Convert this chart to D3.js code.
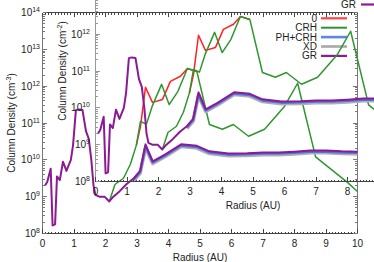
<!DOCTYPE html>
<html><head><meta charset="utf-8">
<script src="https://cdn.jsdelivr.net/npm/d3@7"></script>
<style>
html,body{margin:0;padding:0;background:#fff;}
svg{display:block;font-family:"Liberation Sans",Arial,sans-serif;}
</style></head><body>
<svg id="c" width="374" height="262"></svg>
<script>
// ---------------- data ----------------
const seriesNames = ["0", "CRH", "PH+CRH", "XD", "GR"];

const radius0 = [2.98, 3.11, 3.27, 3.49, 3.81, 4.06, 4.38, 4.60, 4.90];
const dens0   = [2.51e10, 7.94e10, 9.33e11, 3.63e11, 4.37e11, 1.35e12, 1.86e12, 3.02e12, 2.51e12];

const radiusCRH = [2.12, 2.30, 2.57, 2.79, 2.98, 3.11, 3.30, 3.48, 3.78, 4.02, 4.30, 4.60,
                   4.90, 5.30, 5.71, 6.06, 6.54, 7.05, 7.68, 8.10, 8.67, 9.68, 10.0];
const densCRH   = [7.41e8, 2.14e9, 3.16e9, 7.59e9, 2.51e10, 1.10e11, 9.33e10, 2.82e11, 1.12e12, 3.16e11, 7.24e11, 3.02e12,
                   2.51e12, 9.12e10, 6.76e10, 9.12e10, 4.37e10, 6.76e10, 2.82e11, 1.20e12, 1.20e10, 2.45e9, 1.38e9];

const radiusPH = [2.90, 3.10, 3.27, 3.50, 3.90, 4.40, 4.90, 5.30, 5.90, 6.50, 7.00, 7.50, 8.00, 8.50, 9.00, 9.50, 10.0];
const densPH   = [2.95e9, 4.68e9, 2.29e10, 8.51e9, 1.32e10, 2.45e10, 2.24e10, 1.58e10, 1.38e10, 1.41e10, 1.48e10, 1.48e10, 1.55e10, 1.66e10, 1.66e10, 1.58e10, 1.55e10];

const radiusXD = [2.90, 3.10, 3.27, 3.50, 3.90, 4.40, 4.90, 5.30, 5.90, 6.50, 7.00, 7.50, 8.00, 8.50, 9.00, 9.50, 10.0];
const densXD   = [2.75e9, 4.37e9, 2.14e10, 7.94e9, 1.23e10, 2.29e10, 2.09e10, 1.48e10, 1.29e10, 1.32e10, 1.38e10, 1.38e10, 1.45e10, 1.55e10, 1.55e10, 1.48e10, 1.45e10];

const radiusGR = [0.08, 0.15, 0.26, 0.32, 0.40, 0.46, 0.55, 0.65, 0.76, 0.90,
                  0.97, 1.06, 1.15, 1.27, 1.38, 1.47, 1.55, 1.62, 1.68, 1.80,
                  1.97, 2.12, 2.25, 2.45, 2.68, 2.90, 3.10, 3.27, 3.50, 3.90,
                  4.40, 4.90, 5.30, 5.90, 6.50, 7.00, 7.50, 8.00, 8.50, 9.00,
                  9.50, 10.0];
const densGR   = [2.00e9, 2.51e9, 5.75e9, 1.66e8, 1.78e8, 3.55e9, 2.82e9, 8.91e9, 5.01e9, 1.00e10,
                  2.51e10, 2.24e11, 2.34e11, 2.24e11, 6.03e10, 3.72e10, 1.00e10, 2.00e9, 1.12e9, 1.00e9,
                  1.00e9, 7.41e8, 1.00e9, 1.41e9, 2.24e9, 3.16e9, 5.01e9, 2.63e10, 9.12e9, 1.41e10,
                  2.63e10, 2.40e10, 1.70e10, 1.48e10, 1.51e10, 1.58e10, 1.58e10, 1.66e10, 1.78e10, 1.78e10,
                  1.70e10, 1.66e10];

const xTickLabels = [0, 1, 2, 3, 4, 5, 6, 7, 8, 9, 10];
const yTickExponents = [8, 9, 10, 11, 12, 13, 14];

// ---------------- styles ----------------
const styles = {
  "0":      {color: "#ff2222", width: 1.5, legendColor: "#ff4444", legendWidth: 2.2},
  "CRH":    {color: "#2f962f", width: 1.5, legendColor: "#2f962f", legendWidth: 2},
  "PH+CRH": {color: "#4f74e0", width: 2.4, legendColor: "#5f84ea", legendWidth: 2.6},
  "XD":     {color: "#b0b0b0", width: 3.6, legendColor: "#a8a8a8", legendWidth: 2.6},
  "GR":     {color: "#8b1a94", width: 2.0, legendColor: "#8b1a94", legendWidth: 2.2}
};
const seriesData = {
  "0": d3.zip(radius0, dens0),
  "CRH": d3.zip(radiusCRH, densCRH),
  "PH+CRH": d3.zip(radiusPH, densPH),
  "XD": d3.zip(radiusXD, densXD),
  "GR": d3.zip(radiusGR, densGR)
};
const drawOrder = ["0", "CRH", "XD", "PH+CRH", "GR"];

const W = 374;
const svg = d3.select("#c");

function supText(sel, base, sup, after) {
  sel.append("tspan").text(base);
  sel.append("tspan").attr("dy", -4).attr("font-size", "7px").text(sup);
  if (after) sel.append("tspan").attr("dy", 4).text(after);
}

function panel(o) {
  const g = svg.append("g");
  const x = d3.scaleLinear().domain([0, 10]).range(o.xr);
  const y = d3.scaleLog().domain([1e8, 1e14]).range(o.yr);
  const [xl, xr] = o.xr, [yb, yt] = o.yr;
  const ax = g.append("g").attr("shape-rendering", "crispEdges");

  // frame
  const sides = o.sides;
  if (sides.includes("b")) ax.append("line").attr("x1", xl).attr("x2", xr).attr("y1", yb).attr("y2", yb).attr("stroke", o.hColor);
  if (sides.includes("t")) ax.append("line").attr("x1", xl).attr("x2", xr).attr("y1", yt).attr("y2", yt).attr("stroke", o.hColor);
  if (sides.includes("l")) ax.append("line").attr("x1", xl).attr("x2", xl).attr("y1", yb).attr("y2", yt).attr("stroke", o.vColor);
  if (sides.includes("r")) ax.append("line").attr("x1", xr).attr("x2", xr).attr("y1", yb).attr("y2", yt).attr("stroke", o.vColor);

  // x ticks
  const xMinor = d3.range(1, 100).filter(i => i % 10 !== 0).map(i => i / 10);
  [["b", yb, -1], ["t", yt, 1]].forEach(([s, yy, dir]) => {
    if (!sides.includes(s)) return;
    xTickLabels.forEach(v => ax.append("line").attr("x1", x(v)).attr("x2", x(v)).attr("y1", yy).attr("y2", yy + dir * 4.5).attr("stroke", o.hColor));
    xMinor.forEach(v => ax.append("line").attr("x1", x(v)).attr("x2", x(v)).attr("y1", yy).attr("y2", yy + dir * 2).attr("stroke", o.hColor));
  });
  // y ticks
  const yMinor = [];
  yTickExponents.slice(0, -1).forEach(e => d3.range(2, 10).forEach(m => yMinor.push(m * Math.pow(10, e))));
  [["l", xl, 1], ["r", xr, -1]].forEach(([s, xx, dir]) => {
    if (!sides.includes(s)) return;
    yTickExponents.forEach(e => ax.append("line").attr("x1", xx).attr("x2", xx + dir * 4.5).attr("y1", y(Math.pow(10, e))).attr("y2", y(Math.pow(10, e))).attr("stroke", o.vColor));
    yMinor.forEach(v => ax.append("line").attr("x1", xx).attr("x2", xx + dir * 2.2).attr("y1", y(v)).attr("y2", y(v)).attr("stroke", o.vColor));
  });

  // tick labels (only those that fall inside the window)
  xTickLabels.filter(v => x(v) < W - 4).forEach(v => g.append("text").attr("x", x(v)).attr("y", yb + 13.5)
    .attr("text-anchor", "middle").attr("font-size", "10px").attr("fill", "#222").text(v));
  yTickExponents.filter(e => e <= o.maxYLabel).forEach(e => {
    const t = g.append("text").attr("x", o.yLabelRight).attr("y", y(Math.pow(10, e)) + 3.5)
      .attr("text-anchor", "end").attr("font-size", "10px").attr("fill", "#222");
    supText(t, "10", String(e));
  });

  // axis titles
  g.append("text").attr("x", (xl + xr) / 2).attr("y", yb + 27).attr("text-anchor", "middle")
    .attr("font-size", "10px").attr("fill", "#222").text("Radius (AU)");
  const yt2 = g.append("text").attr("transform", `translate(${o.yTitleX},${(yb + yt) / 2}) rotate(-90)`)
    .attr("text-anchor", "middle").attr("font-size", "10px").attr("fill", "#222");
  supText(yt2, "Column Density (cm", o.unitExp, ")");

  // lines
  const line = d3.line().x(d => x(d[0])).y(d => y(d[1]));
  drawOrder.forEach(name => {
    const st = styles[name];
    g.append("path").datum(seriesData[name]).attr("d", line).attr("fill", "none")
      .attr("stroke", st.color).attr("stroke-width", st.width).attr("stroke-linejoin", "round");
  });

  // legend (entries that fall inside the window)
  seriesNames.forEach((name, i) => {
    const ly = o.legY + i * 9.4;
    if (ly < 0) return;
    g.append("text").attr("x", o.legTextRight).attr("y", ly + 3.5).attr("text-anchor", "end")
      .attr("font-size", "10px").attr("fill", "#222").text(name);
    g.append("line").attr("x1", o.legLine[0]).attr("x2", o.legLine[1]).attr("y1", ly).attr("y2", ly)
      .attr("stroke", styles[name].legendColor).attr("stroke-width", styles[name].legendWidth);
  });
}

// main plot
panel({xr: [42.5, 357.5], yr: [233.5, 12.5], sides: "btlr", hColor: "#444", vColor: "#777",
       yLabelRight: 40, maxYLabel: 14, yTitleX: 15, unitExp: "-3",
       legY: 18.3, legTextRight: 317, legLine: [321, 347]});
// overlaid copy (inset)
panel({xr: [95.5, 410.5], yr: [181.5, -39.5], sides: "bl", hColor: "#444", vColor: "#999",
       yLabelRight: 90, maxYLabel: 12, yTitleX: 66, unitExp: "-2",
       legY: 4.5 - 4 * 9.4, legTextRight: 356, legLine: [361, 387]});
</script>
</body></html>
